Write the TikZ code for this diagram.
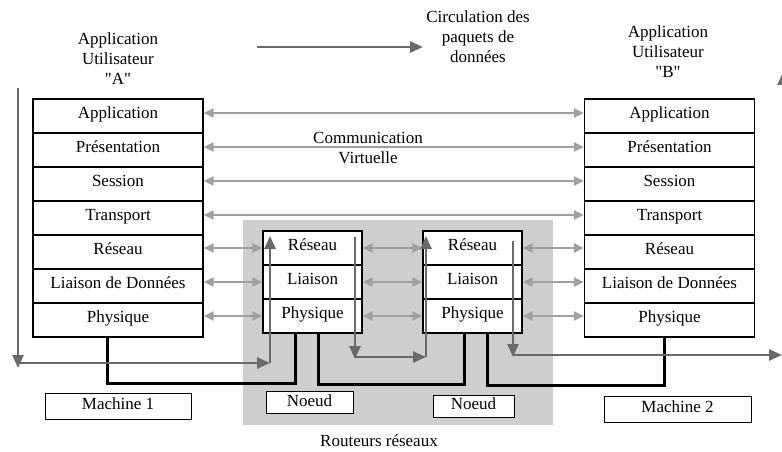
\documentclass[tikz,border=0pt]{standalone}
\usepackage{fontspec}
\setmainfont{Liberation Serif}
\usetikzlibrary{arrows.meta,positioning}
\definecolor{flowgray}{RGB}{105,105,105}
\definecolor{commgray}{RGB}{160,160,160}
\definecolor{zonegray}{RGB}{206,206,206}

\tikzset{
  layer/.style={draw, fill=white, line width=1.2pt, minimum width=170pt, minimum height=34pt,
    inner sep=0pt, text height=12pt, text depth=8pt},
  hop/.style={layer, minimum width=99pt},
  tag/.style={draw, fill=white, line width=1pt, inner sep=0pt, minimum height=22pt,
    text height=12pt, text depth=5pt},
  comm/.style={commgray, line width=2.5pt,
    {Triangle[length=10pt,width=9pt]}-{Triangle[length=10pt,width=9pt]}},
  flow/.style={flowgray, line width=2.5pt, -{Triangle[length=13pt,width=11pt]}},
  wire/.style={line width=3pt},
}

\begin{document}
\begin{tikzpicture}[x=1pt, y=-1pt, font=\fontsize{17}{20}\selectfont]
  \useasboundingbox (0,0) rectangle (782,452);

  % zone des routeurs
  \node[fill=zonegray, minimum width=310pt, minimum height=205pt, inner sep=0pt] (zone) at (398,322.5) {};
  \node (routeurs) at (379,441) {Routeurs réseaux};

  % titres
  \node[align=center] (userA) at (118,59) {Application\\Utilisateur\\\textquotedbl A\textquotedbl};
  \node[align=center] (userB) at (668,52) {Application\\Utilisateur\\\textquotedbl B\textquotedbl};
  \node[align=center] (circ) at (478,37) {Circulation des\\paquets de\\données};
  \coordinate (cstart) at (257,47);
  \coordinate (cend) at (423,47);
  \draw[flow] (cstart) -- (cend);

  % piles OSI
  \foreach \t [count=\i] in {Application,Présentation,Session,Transport,Réseau,Liaison de Données,Physique} {
    \node[layer] (a\i) at (118,82+34*\i) {\t};
    \node[layer] (b\i) at (669.5,82+34*\i) {\t};
  }
  \foreach \t [count=\i] in {Réseau,Liaison,Physique} {
    \node[hop] (r1\i) at (312.5,214+34*\i) {\t};
    \node[hop] (r2\i) at (472.5,214+34*\i) {\t};
  }

  % communication virtuelle
  \foreach \i in {1,...,4}
    \draw[comm] ([yshift=3pt]a\i.east) -- ([yshift=3pt]b\i.west);
  \node[align=center] (virt) at (368,148) {Communication\\Virtuelle};
  \foreach \i/\j in {1/5,2/6,3/7} {
    \draw[comm] (a\j.east |- r1\i.west) -- (r1\i.west);
    \draw[comm] (r1\i.east) -- (r2\i.west);
    \draw[comm] (r2\i.east) -- (r2\i.east -| b\j.west);
  }

  % liaisons physiques
  \draw[wire] ([xshift=-11pt]a7.south) -- ++(0,46) -| ([xshift=-17pt]r13.south);
  \draw[wire] ([xshift=5.5pt]r13.south) -- ++(0,51) -| ([xshift=-8.5pt]r23.south);
  \draw[wire] ([xshift=14.5pt]r23.south) -- ++(0,52) -| ([xshift=-5.5pt]b7.south);

  % machines et noeuds
  \node[tag, minimum width=146pt, minimum height=26pt] (m1) at (118,406) {Machine 1};
  \node[tag, minimum width=147pt, minimum height=26pt] (m2) at (677.5,409) {Machine 2};
  \node[tag, minimum width=87pt] (n1) at (309.5,402.5) {Noeud};
  \node[tag, minimum width=81pt] (n2) at (473.5,406) {Noeud};

  % circulation des paquets
  \coordinate (f1) at (18,88);
  \coordinate (f2) at (18,363);
  \coordinate (f3) at (270,363);
  \coordinate (f4) at (270,236);
  \coordinate (f5) at (355,237);
  \coordinate (f6) at (355,357);
  \coordinate (f7) at (426,357);
  \coordinate (f8) at (426,236);
  \coordinate (f9) at (513,241);
  \coordinate (f10) at (513,355);
  \coordinate (f11) at (782,355);
  \draw[flow] (f1) -- ([yshift=-5pt]f2);
  \draw[flow] (f2) -- (f3);
  \draw[flow] (f3) -- (f4);
  \draw[flow] (f5) -- ([yshift=-2pt]f6);
  \draw[flow] (f6) -- (f7);
  \draw[flow] (f7) -- (f8);
  \draw[flow] (f9) -- ([yshift=-2pt]f10);
  \draw[flow] (f10) -- (f11);
  \coordinate (f12) at (783,86);
  \coordinate (f13) at (783,72);
  \draw[flow] (f12) -- (f13);
\end{tikzpicture}
\end{document}
